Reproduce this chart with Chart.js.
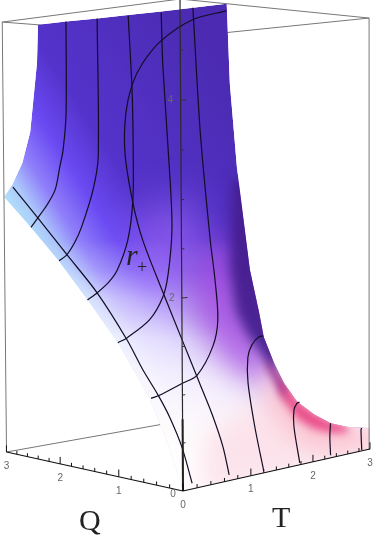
<!DOCTYPE html>
<html>
<head>
<meta charset="utf-8">
<title>r+ (Q, T)</title>
<script src="https://cdn.jsdelivr.net/npm/chart.js@4/dist/chart.umd.min.js"></script>
<style>
  html, body { margin: 0; padding: 0; background: #fff; }
  canvas { display: block; }
</style>
</head>
<body>
<canvas id="surfaceChart" width="374" height="539"></canvas>
<script>
// axes
const qTicks = [0, 0.2, 0.4, 0.6, 0.8, 1, 1.2, 1.4, 1.6, 1.8, 2, 2.2, 2.4, 2.6, 2.8, 3];
const tTicks = [0, 0.2, 0.4, 0.6, 0.8, 1, 1.2, 1.4, 1.6, 1.8, 2, 2.2, 2.4, 2.6, 2.8, 3];
const rTicks = [0.5, 1, 1.5, 2, 2.5, 3, 3.5, 4, 4.5];
const qLabels = [0, 1, 2, 3];
const tLabels = [0, 1, 2, 3];
const rLabels = [2, 4];
const rMax = 5;

// lines of constant Q: T and r
const qLevels = [2.5, 2, 1.5, 1, 0.5];
const qLine25T = [0.54, 0.53, 0.48, 0.43, 0.36, 0.24, 0.11, 0.005];
const qLine25R = [5.0, 3.96, 3.53, 3.34, 3.08, 2.91, 2.77, 2.66];
const qLine20T = [0.59, 0.59, 0.51, 0.34, 0.24, 0.12, 0.01];
const qLine20R = [5.0, 3.45, 3.08, 2.67, 2.5, 2.36, 2.30];
const qLine15T = [0.62, 0.67, 0.68, 0.67, 0.59, 0.43, 0.30, 0.14, 0];
const qLine15R = [4.99, 4.18, 3.52, 2.96, 2.52, 2.19, 2.06, 1.96, 1.89];
const qLine10T = [0.66, 0.68, 0.78, 0.80, 0.74, 0.66, 0.46, 0.13, 0];
const qLine10R = [4.99, 4.41, 3.15, 2.64, 2.16, 1.91, 1.67, 1.50, 1.46];
const qLine05T = [0.66, 0.76, 0.90, 0.97, 1.01, 0.93, 0.69, 0.48, 0.15, 0.02];
const qLine05R = [5.0, 3.69, 2.54, 2.10, 1.66, 1.37, 1.08, 1.02, 0.93, 0.91];

// lines of constant T: Q and r
const tLevels = [0.13, 0.68, 1.2, 1.78, 2.3, 2.85];
const tLine1Q = [0, 0.15, 0.33, 0.51, 0.75, 1, 1.49, 2.01, 2.53, 3.0];
const tLine1R = [0.06, 0.42, 0.71, 0.93, 1.18, 1.48, 1.96, 2.36, 2.76, 3.11];
const tLine2Q = [0.02, 0.52, 1.01, 1.33, 1.51, 1.62, 1.64, 1.51, 1.35, 1.02, 0.72, 0.45, 0.26, 0.10, 0.01];
const tLine2R = [4.93, 4.88, 4.70, 4.47, 4.24, 3.93, 3.49, 2.93, 2.52, 1.95, 1.45, 1.00, 0.68, 0.35, 0.06];
const tLine3Q = [0, 0.13, 0.23, 0.23, 0.17, 0.06, 0];
const tLine3R = [0.02, 0.49, 0.97, 1.25, 1.39, 1.49, 1.50];
const tLine4Q = [0, 0.085, 0.084, 0.04, 0];
const tLine4R = [0.02, 0.42, 0.61, 0.69, 0.71];
const tLine5Q = [0, 0.01, 0];
const tLine5R = [0.03, 0.24, 0.40];
const tLine6Q = [0, 0.01, 0];
const tLine6R = [0.01, 0.25, 0.27];

// surface outline: top edge r=5, edge Q=0, T axis, edge T=0, edge Q=3
const outlineQ = [3, 2.5, 2, 1.5, 1, 0.5, 0, 0, 0, 0, 0, 0, 0, 0, 0, 0, 0, 0, 0, 0, 0, 0, 0.25, 0.5, 1, 1.5, 2, 2.5, 3, 3, 3, 3, 3, 3];
const outlineT = [0.52, 0.54, 0.59, 0.62, 0.66, 0.66, 0.67, 0.71, 0.81, 1.0, 1.14, 1.21, 1.37, 1.53, 1.74, 2.02, 2.31, 2.59, 3, 3, 0, 0, 0, 0, 0, 0, 0, 0, 0, 0.12, 0.27, 0.39, 0.44, 0.5];
const outlineR = [5, 5, 5, 5, 5, 5, 5, 4.19, 3.32, 2.23, 1.76, 1.49, 1.19, 0.95, 0.72, 0.54, 0.40, 0.32, 0.25, 0, 0, 0, 0.5, 0.91, 1.46, 1.89, 2.30, 2.66, 3.0, 3.14, 3.39, 3.75, 4.12, 4.56];

// shading patches on the surface
const violetQ = [1.5, 0.7, 0.5, 0.8, 1.3];
const violetT = [0.7, 0.8, 0.95, 0.8, 0.5];
const violetR = [2.8, 3.0, 2.2, 1.8, 2];
const haloQ = [0.8, 0.3, 0, 0, 0.25, 0.5, 0.8];
const haloT = [1, 1, 1.2, 1.45, 1.3, 1.1, 0.9];
const haloR = [2.3, 2.6, 1.6, 1.0, 0.95, 1.2, 1.7];
const ridgeQ = [-0.2, -0.2, -0.2, -0.2, -0.2, 0.1, 0.25, 0.36, 0.3, 0.1];
const ridgeT = [0.85, 1.0, 1.14, 1.21, 1.37, 1.37, 1.21, 1.14, 1.0, 0.85];
const ridgeR = [3.2, 2.23, 1.76, 1.49, 1.19, 1.19, 1.49, 1.76, 2.23, 3.2];
const plumQ = [0, 0, 0, 0, 0, 0];
const plumT = [1.25, 1.4, 1.55, 1.55, 1.4, 1.25];
const plumR = [1.4, 1.15, 0.93, 0.75, 0.95, 1.15];
const floorQ = [0, 0, 0, 0, 0, 0];
const floorT = [0.3, 1, 2, 3.2, 3.2, 0.3];
const floorR = [0.5, 0.8, 0.4, 0.2, -0.1, -0.1];
const blushQ = [0, 0, 0, 0, 0, 0, 0, 0, 0, 0, 0, 0.1];
const blushT = [1.3, 1.53, 1.74, 2.02, 2.31, 2.59, 3.1, 3.1, 2.5, 2, 1.6, 1.3];
const blushR = [1.3, 0.95, 0.72, 0.54, 0.40, 0.32, 0.25, 0.02, 0.05, 0.15, 0.35, 0.7];
const roseQ = [0, 0, 0, 0, 0, 0, 0, 0, 0, 0, 0, 0];
const roseT = [1.45, 1.53, 1.74, 2.02, 2.31, 2.6, 2.6, 2.3, 2, 1.74, 1.55, 1.45];
const roseR = [1.1, 0.97, 0.74, 0.56, 0.42, 0.33, 0.25, 0.29, 0.38, 0.53, 0.72, 0.87];

// perspective of the box, fitted on its corners and ticks
function project(q, t, r) {
    const wx = 1 + 0.04753 * q + 0.04673 * t - 0.0021 * r;
    const wy = 1 + 0.04753 * q + 0.04673 * t - 0.00635 * r;
    return {
        x: (183 - 58.52 * q + 79.62 * t - 0.98 * r) / wx,
        y: (491 + 8.487 * q + 6.98 * t - 98.39 * r) / wy
    };
}

const datasets = [];

function addLine(points, color, width, tension) {
    datasets.push({
        data: points,
        showLine: true,
        pointRadius: 0,
        borderColor: color,
        borderWidth: width,
        tension: tension || 0
    });
}

function addPatch(qs, ts, rs, paint) {
    datasets.push({
        data: qs.map((q, i) => project(q, ts[i], rs[i])),
        showLine: false,
        pointRadius: 0,
        paint: paint
    });
}

function edge(a, b, color, width) {
    addLine([project(a[0], a[1], a[2]), project(b[0], b[1], b[2])], color, width);
}

// back of the box, behind the surface
edge([3, 0, 0], [3, 3, 0], '#777', 1);
edge([0, 3, 0], [3, 3, 0], '#777', 1);
edge([3, 3, 0], [3, 3, rMax], '#777', 1);
edge([3, 3, rMax], [3, 0, rMax], '#777', 1);
edge([3, 3, rMax], [0, 3, rMax], '#777', 1);

// surface
addPatch(outlineQ, outlineT, outlineR, {
    gradient: [5, 195, 215, 60],
    stops: [[0, '#b0dcfa'], [0.06, '#acc8fa'], [0.15, '#9080fa'], [0.28, '#6a4af2'], [0.44, '#5433cc'], [1, '#4c2bb2']]
});
addPatch(outlineQ, outlineT, outlineR, {
    gradient: [0, 240, 0, 460],
    stops: [[0, 'rgba(250,248,255,0)'], [0.14, 'rgba(250,248,255,0.2)'], [0.27, 'rgba(250,248,255,0.55)'], [0.45, 'rgba(252,250,255,0.8)'], [0.64, 'rgba(254,250,254,0.92)'], [0.86, 'rgba(255,252,252,0.98)'], [1, 'rgba(255,253,253,1)']]
});
addPatch(floorQ, floorT, floorR, { color: 'rgba(252,222,232,0.85)', blur: 12 });
addPatch(violetQ, violetT, violetR, { color: 'rgba(170,112,255,0.6)', blur: 20 });
addPatch(haloQ, haloT, haloR, { color: 'rgba(164,70,226,0.78)', blur: 15 });
addPatch(blushQ, blushT, blushR, { color: 'rgba(250,190,205,0.8)', blur: 10 });
addPatch(roseQ, roseT, roseR, { color: 'rgba(232,62,128,0.9)', blur: 4 });
addPatch(plumQ, plumT, plumR, { color: 'rgba(140,35,135,0.85)', blur: 4 });
addPatch(ridgeQ, ridgeT, ridgeR, { color: 'rgba(70,30,142,0.95)', blur: 6 });

// mesh lines
const meshColor = '#120d24';
[[qLine25T, qLine25R], [qLine20T, qLine20R], [qLine15T, qLine15R], [qLine10T, qLine10R], [qLine05T, qLine05R]].forEach((line, n) => {
    addLine(line[0].map((t, i) => project(qLevels[n], t, line[1][i])), meshColor, 1.2, 0.3);
});
[[tLine1Q, tLine1R], [tLine2Q, tLine2R], [tLine3Q, tLine3R], [tLine4Q, tLine4R], [tLine5Q, tLine5R], [tLine6Q, tLine6R]].forEach((line, n) => {
    addLine(line[0].map((q, i) => project(q, tLevels[n], line[1][i])), meshColor, 1.2, 0.3);
});

// front of the box
edge([0, 0, 0], [0, 0, rMax], '#2a2a2a', 1.2);
edge([0, 0, 0], [0, 0, 0.75], '#222', 2);
edge([3, 0, 0], [3, 0, rMax], '#777', 1);
edge([0, 3, 0], [0, 3, rMax], '#777', 1);
edge([0, 0, rMax], [3, 0, rMax], '#777', 1);
edge([0, 0, rMax], [0, 3, rMax], '#777', 1);
edge([0, 0, 0], [3, 0, 0], '#111', 1.2);
edge([0, 0, 0], [0, 3, 0], '#111', 1.2);

// ticks
qTicks.forEach(q => {
    edge([q, 0, 0], [q, 0, qLabels.includes(q) ? 0.08 : 0.04], '#111', 1);
});
tTicks.forEach(t => {
    edge([0, t, 0], [0, t, tLabels.includes(t) ? 0.08 : 0.04], '#111', 1);
});
rTicks.forEach(r => {
    edge([0, 0, r], [0, rLabels.includes(r) ? 0.08 : 0.04, r], '#333', 1);
});

// first dataset is painted first
datasets.forEach((ds, i) => { ds.order = datasets.length - i; });

function tracePoints(ctx, points) {
    ctx.beginPath();
    points.forEach((p, i) => {
        if (i === 0) ctx.moveTo(p.x, p.y);
        else ctx.lineTo(p.x, p.y);
    });
    ctx.closePath();
}

const surfacePaint = {
    id: 'surfacePaint',
    beforeDatasetDraw(chart, args) {
        const paint = chart.data.datasets[args.index].paint;
        if (!paint) return;
        const ctx = chart.ctx;
        const outline = chart.getDatasetMeta(chart.data.datasets.findIndex(ds => ds.paint)).data;
        ctx.save();
        tracePoints(ctx, outline);
        ctx.clip();
        if (paint.blur) ctx.filter = 'blur(' + paint.blur + 'px)';
        if (paint.gradient) {
            const g = ctx.createLinearGradient(...paint.gradient);
            paint.stops.forEach(s => g.addColorStop(s[0], s[1]));
            ctx.fillStyle = g;
        } else {
            ctx.fillStyle = paint.color;
        }
        tracePoints(ctx, args.meta.data);
        ctx.fill();
        ctx.restore();
    }
};

const axisText = {
    id: 'axisText',
    afterDatasetsDraw(chart) {
        const ctx = chart.ctx;
        const xs = chart.scales.x;
        const ys = chart.scales.y;
        ctx.save();
        ctx.textAlign = 'center';
        ctx.textBaseline = 'middle';
        ctx.font = '10px "Liberation Sans"';
        ctx.fillStyle = '#666';
        qLabels.forEach(q => {
            const p = project(q, 0, 0);
            ctx.fillText(String(q), xs.getPixelForValue(p.x) + (q === 0 ? -10 : 0), ys.getPixelForValue(p.y) + (q === 0 ? 3 : 14));
        });
        tLabels.forEach(t => {
            const p = project(0, t, 0);
            ctx.fillText(String(t), xs.getPixelForValue(p.x), ys.getPixelForValue(p.y) + 14);
        });
        rLabels.forEach(r => {
            const p = project(0, 0, r);
            ctx.fillText(String(r), xs.getPixelForValue(p.x) - 10, ys.getPixelForValue(p.y));
        });
        ctx.textAlign = 'left';
        ctx.textBaseline = 'alphabetic';
        ctx.fillStyle = '#222';
        ctx.font = '30px "Liberation Serif"';
        ctx.fillText('Q', 79, 530);
        ctx.fillText('T', 272, 527);
        ctx.font = 'italic 30px "Liberation Serif"';
        ctx.fillText('r', 126, 265);
        ctx.font = '18px "Liberation Serif"';
        ctx.fillText('+', 137, 273);
        ctx.restore();
    }
};

new Chart(document.getElementById('surfaceChart'), {
    type: 'scatter',
    data: { datasets: datasets },
    plugins: [surfacePaint, axisText],
    options: {
        responsive: false,
        animation: false,
        events: [],
        layout: { padding: 0 },
        plugins: { legend: { display: false }, tooltip: { enabled: false } },
        scales: {
            x: { type: 'linear', display: false, min: 0, max: 374 },
            y: { type: 'linear', display: false, min: 0, max: 539, reverse: true }
        }
    }
});
</script>
</body>
</html>
